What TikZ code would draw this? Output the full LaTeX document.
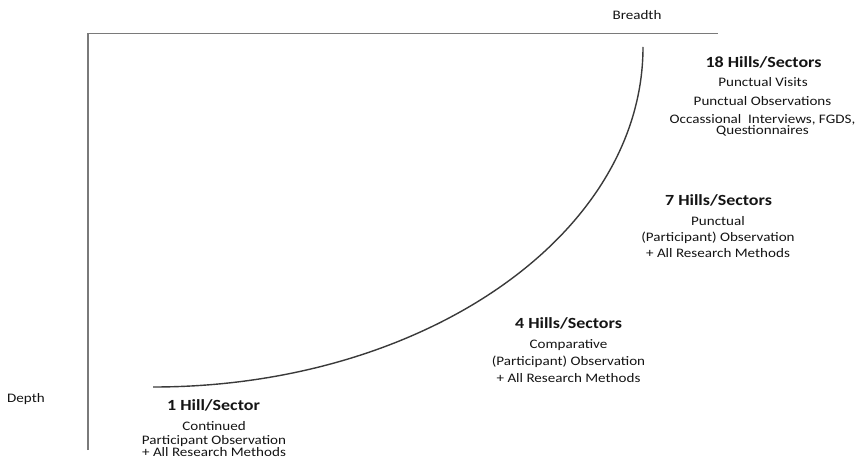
\documentclass[tikz,border=0pt]{standalone}
\usepackage{fontspec}
\setmainfont[FakeStretch=1.16]{Carlito}
\definecolor{axisgray}{HTML}{7A7A7A}
\definecolor{curvegray}{HTML}{3A3A3A}
\definecolor{txt}{HTML}{141414}
\tikzset{
  axisline/.style={draw=axisgray, line width=1.8pt},
  curveline/.style={draw=curvegray, line width=1.4pt},
  title/.style={anchor=base, inner sep=0pt, text=txt, font=\bfseries\fontsize{15.5}{18}\selectfont},
  body/.style={anchor=base, inner sep=0pt, text=txt, font=\fontsize{13}{15}\selectfont},
}
\begin{document}
\begin{tikzpicture}[x=1pt,y=-1pt]
\useasboundingbox (0,0) rectangle (864,457);
% axes
\coordinate (corner) at (88,33.5);
\coordinate (xend) at (718,33.5);
\coordinate (yend) at (88,450);
\draw[axisline] (yend) -- (corner) -- (xend);
% curve
\coordinate (cbot) at (153,387);
\coordinate (ctop) at (643,47);
\draw[curveline] (cbot) .. controls (423.6,387) and (643,234.8) .. (ctop);
% axis labels
\node[body] (breadth) at (637,20) {Breadth};
\node[body] (depth) at (26,402.5) {Depth};
% 18 hills
\node[title] (t18) at (763.5,68) {18 Hills/Sectors};
\node[body] (l18a) at (763,87) {Punctual Visits};
\node[body] (l18b) at (762.5,106) {Punctual Observations};
\node[body] (l18c) at (762.5,124) {Occassional\ \ Interviews, FGDS,};
\node[body] (l18d) at (762.5,134.5) {Questionnaires};
% 7 hills
\node[title] (t7) at (718.5,205) {7 Hills/Sectors};
\node[body] (l7a) at (718,225.5) {Punctual};
\node[body] (l7b) at (718,241.5) {(Participant) Observation};
\node[body] (l7c) at (718,257.5) {+ All Research Methods};
% 4 hills
\node[title] (t4) at (568.5,328) {4 Hills/Sectors};
\node[body] (l4a) at (568.5,348.5) {Comparative};
\node[body] (l4b) at (568.5,365) {(Participant) Observation};
\node[body] (l4c) at (568.5,382) {+ All Research Methods};
% 1 hill
\node[title] (t1) at (213.5,410.5) {1 Hill/Sector};
\node[body] (l1a) at (214,430) {Continued};
\node[body] (l1b) at (214,444) {Participant Observation};
\node[body] (l1c) at (214,456.5) {+ All Research Methods};
\end{tikzpicture}
\end{document}
